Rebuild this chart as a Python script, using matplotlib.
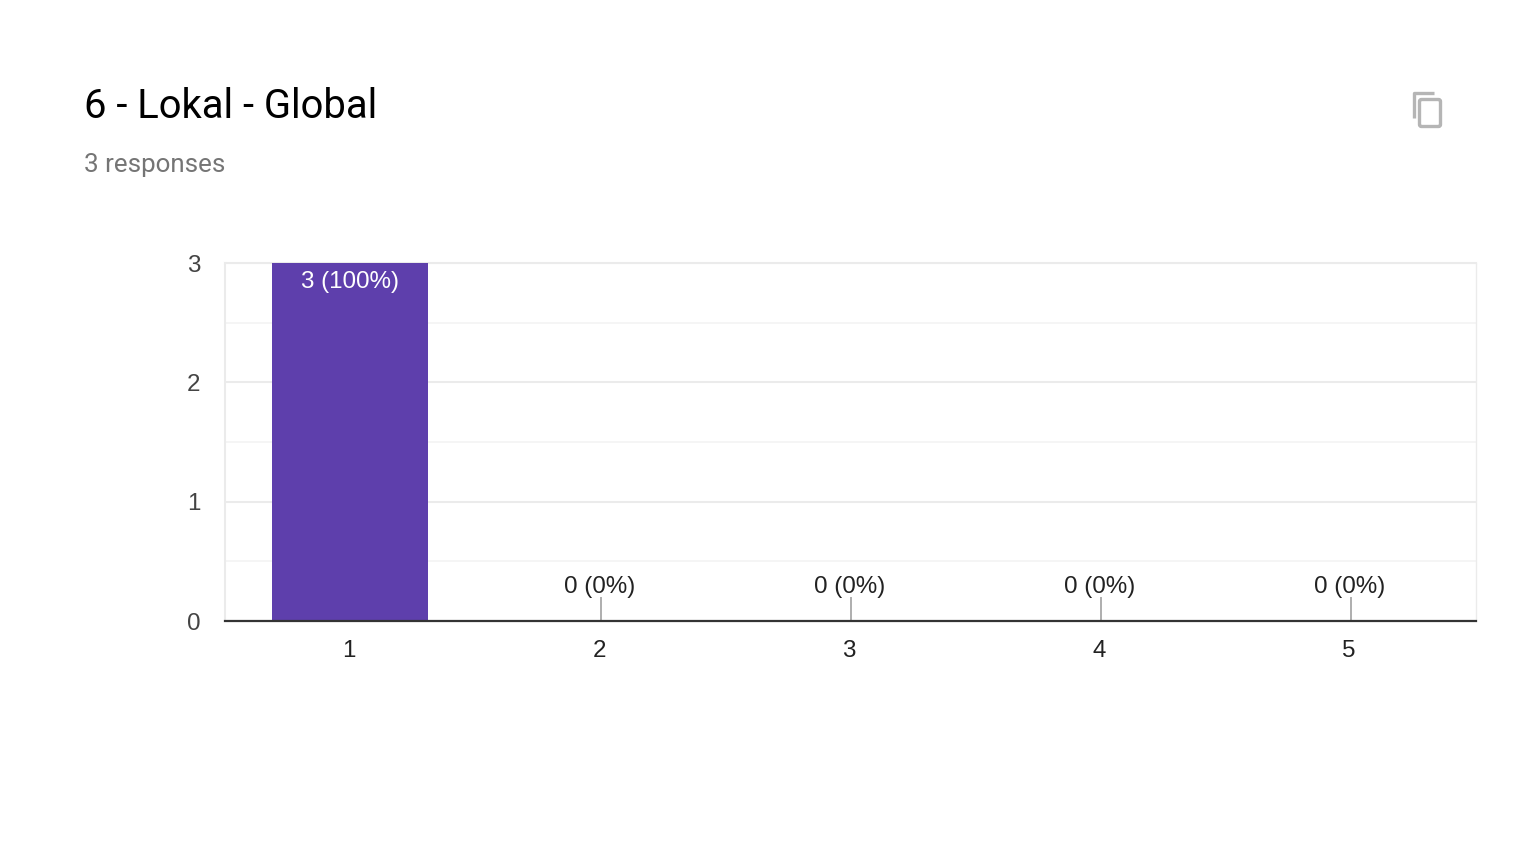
import matplotlib
matplotlib.use('Agg')
import matplotlib.pyplot as plt
from matplotlib.lines import Line2D
from matplotlib.patches import FancyBboxPatch
from matplotlib.transforms import ScaledTranslation

W, H = 1534, 864

categories = ['1', '2', '3', '4', '5']
counts = [3, 0, 0, 0, 0]
labels = ['3 (100%)', '0 (0%)', '0 (0%)', '0 (0%)', '0 (0%)']
yticks = [0, 1, 2, 3]
minor_yticks = [0.5, 1.5, 2.5]

plt.rcParams['font.family'] = ['Liberation Sans', 'DejaVu Sans']

fig = plt.figure(figsize=(W / 100, H / 100), dpi=100)
ax = fig.add_axes([224.5 / W, 1 - 621 / H, (1476 - 224.5) / W, (621 - 263) / H])

x = range(len(categories))
ax.bar(x, counts, width=0.624, color='#5e3fac', zorder=3)
ax.set_xlim(-0.502, 4.504)
ax.set_ylim(0, 3)

ax.set_xticks(list(x))
ax.set_xticklabels(categories, fontsize=17.4, color='#222222')
ax.set_yticks(yticks)
ax.set_yticks(minor_yticks, minor=True)
ax.tick_params(axis='x', length=0, pad=13.5)
ax.tick_params(axis='y', length=0, pad=17.5, labelsize=17.4, labelcolor='#444444')
ax.tick_params(axis='y', which='minor', length=0)

# tick labels sit a pixel left of the bar centres
shift_left = ScaledTranslation(-1 / 100, 0, fig.dpi_scale_trans)
for t in ax.get_xticklabels():
    t.set_transform(t.get_transform() + shift_left)

ax.grid(axis='y', which='major', color='#ebebeb', linewidth=1.5, zorder=1)
ax.grid(axis='y', which='minor', color='#f5f5f5', linewidth=1.3, zorder=1)

for side in ['left', 'right', 'top']:
    ax.spines[side].set_color('#ebebeb')
    ax.spines[side].set_linewidth(1.5)
ax.spines['right'].set_linewidth(1)
ax.spines['bottom'].set_color('#333333')
ax.spines['bottom'].set_linewidth(1.6)
ax.spines['bottom'].set_zorder(5)

# labels: white inside the tall bar, stem plus dark text for the zero bars
stem_shift = ax.transData + ScaledTranslation(1 / 100, 0, fig.dpi_scale_trans)
for i, (c, lab) in enumerate(zip(counts, labels)):
    if c > 0:
        ax.annotate(lab, (i, c), xytext=(0, -13.5), textcoords='offset points',
                    ha='center', va='center', fontsize=17.4, color='white', zorder=6)
    else:
        ax.plot([i, i], [0, 0.2], color='#999999', lw=1.1, transform=stem_shift,
                zorder=2, solid_capstyle='butt')
        ax.annotate(lab, (i, 0), xytext=(0, 24.8), textcoords='offset points',
                    ha='center', va='center', fontsize=17.4, color='#222222', zorder=6)

# header text
fig.text(84 / W, 1 - 106 / H, '6 - Lokal - Global', family='Roboto', fontsize=28.8,
         color='black', ha='left', va='center')
fig.text(84 / W, 1 - 165 / H, '3 responses', family='Roboto', fontsize=18.7,
         color='#757575', ha='left', va='center')

# copy icon, top right
icon = '#b5b5b5'
fig.add_artist(Line2D([1413.5 / W, 1413.5 / W, 1434 / W],
                      [1 - 118 / H, 1 - 93 / H, 1 - 93 / H],
                      color=icon, lw=2.4, solid_joinstyle='round',
                      solid_capstyle='butt', transform=fig.transFigure))
fig.add_artist(FancyBboxPatch((1419.5, H - 126.5), 21, 27,
                              boxstyle='round,pad=0,rounding_size=2',
                              fc='none', ec=icon, lw=2.4, transform=None))

fig.savefig('out.png', dpi=100, facecolor='white')
